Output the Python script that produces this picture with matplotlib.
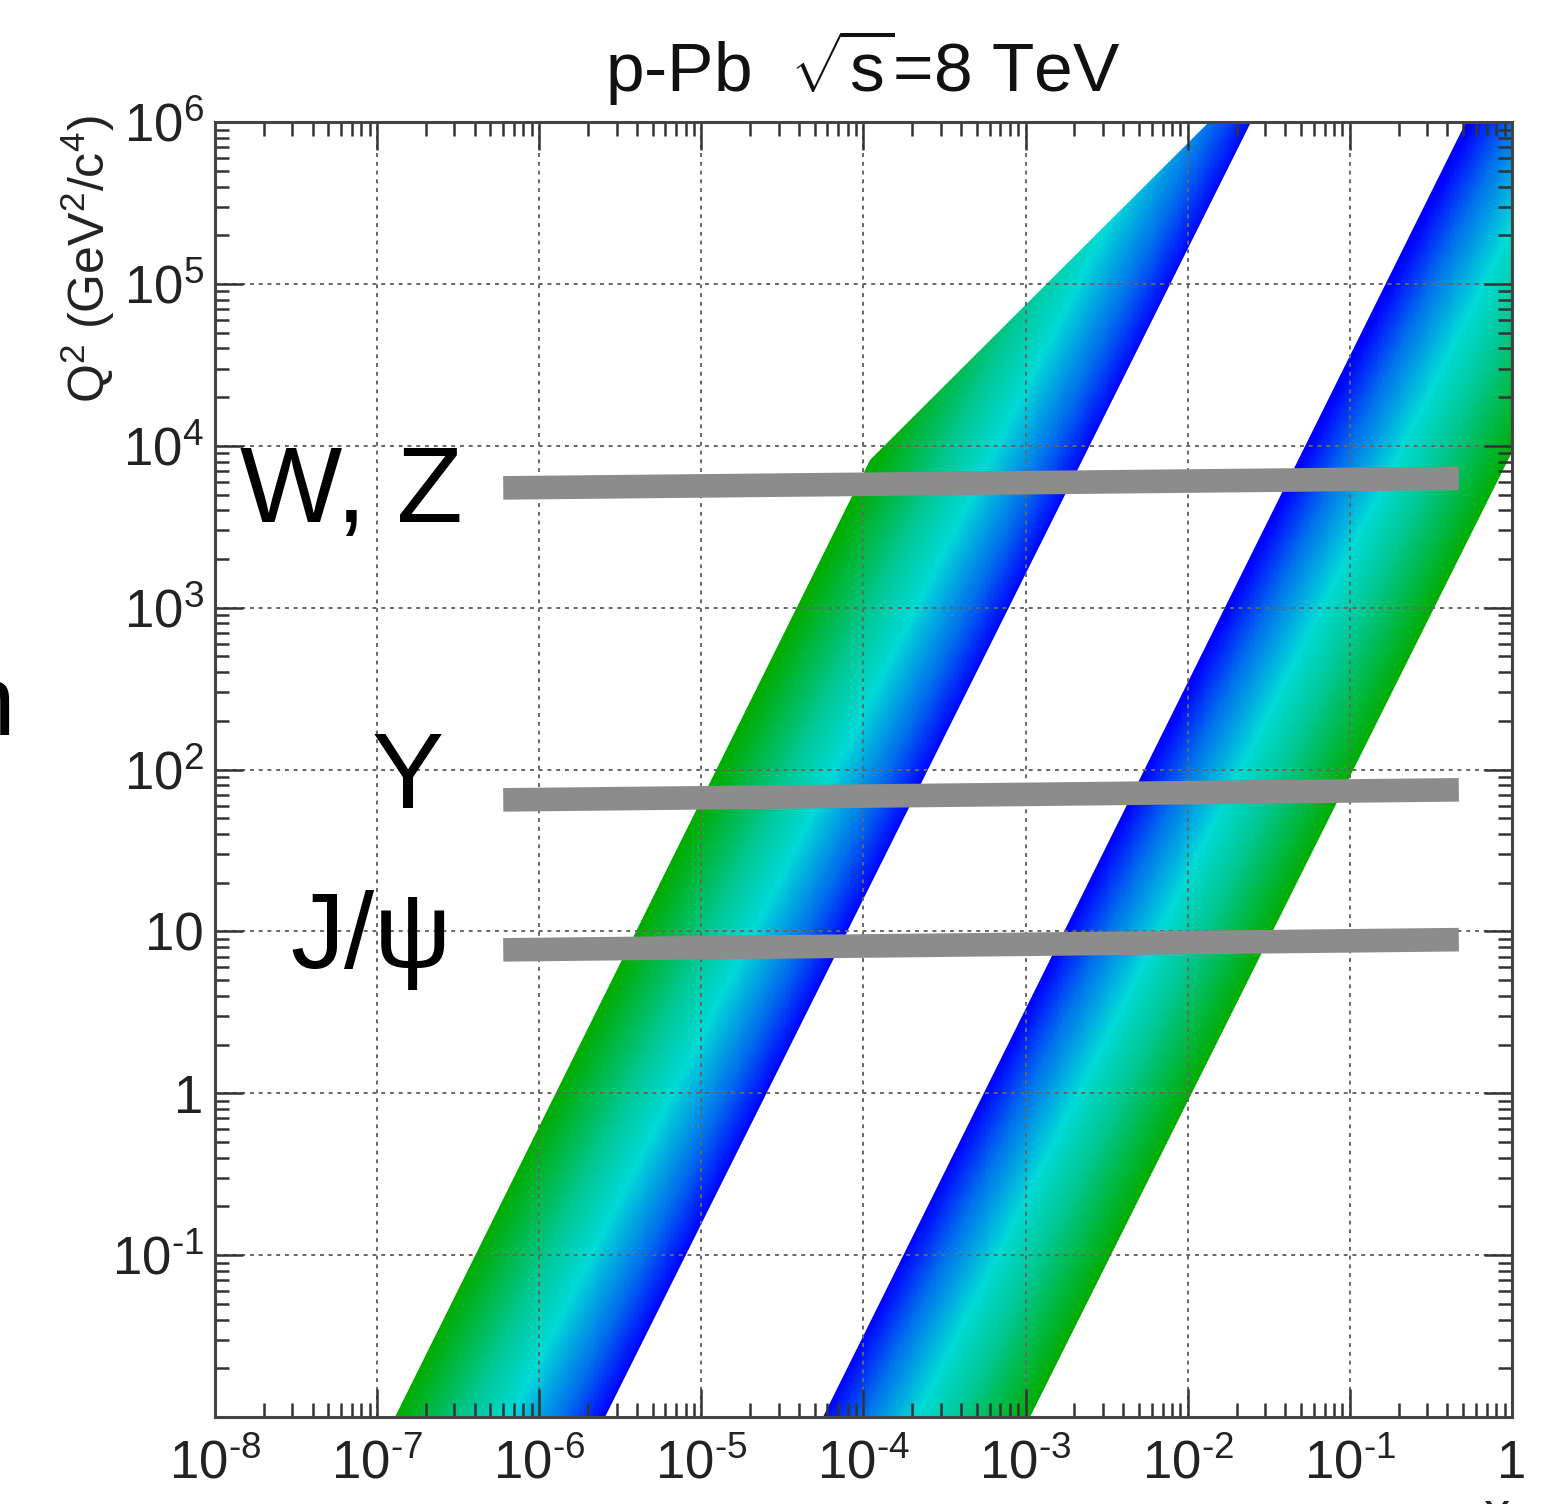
import numpy as np
import matplotlib
matplotlib.use("Agg")
import matplotlib.pyplot as plt
from matplotlib.colors import LinearSegmentedColormap
from matplotlib.patches import Polygon
from matplotlib.ticker import FixedLocator, FixedFormatter, LogLocator, NullFormatter

plt.rcParams['font.family'] = ['Liberation Sans', 'DejaVu Sans']
plt.rcParams['mathtext.fontset'] = 'custom'
plt.rcParams['mathtext.rm'] = 'Liberation Sans'
plt.rcParams['mathtext.it'] = 'Liberation Sans:italic'
plt.rcParams['mathtext.bf'] = 'Liberation Sans:bold'

# coverage band edges, (x, Q2) points from bottom to top
b1_lo_x = [1.29e-7, 1.10e-4, 1.35e-2]
b1_lo_q2 = [1e-2, 8.2e3, 1e6]
b1_hi_x = [2.55e-6, 2.45e-2]
b1_hi_q2 = [1e-2, 1e6]

b2_lo_x = [5.6e-5, 0.52]
b2_lo_q2 = [1e-2, 1e6]
b2_hi_x = [1.07e-3, 1.0, 1.0]
b2_hi_q2 = [1e-2, 9.1e3, 1e6]

# probe scales
probe_names = ['W, Z', 'Υ', 'J/ψ']
probe_x = [[6.0e-7, 0.47], [6.0e-7, 0.47], [6.0e-7, 0.47]]
probe_q2 = [[5.5e3, 6.3e3], [65, 75], [7.7, 8.9]]
probe_text_pos = [(0.019, 0.691), (0.121, 0.470), (0.058, 0.347)]

x_ticks = [1e-8, 1e-7, 1e-6, 1e-5, 1e-4, 1e-3, 1e-2, 1e-1, 1]
x_tick_labels = [r'$10^{\text{-}8}$', r'$10^{\text{-}7}$', r'$10^{\text{-}6}$',
                 r'$10^{\text{-}5}$', r'$10^{\text{-}4}$', r'$10^{\text{-}3}$',
                 r'$10^{\text{-}2}$', r'$10^{\text{-}1}$', '1']
y_ticks = [1e-2, 1e-1, 1, 10, 1e2, 1e3, 1e4, 1e5, 1e6]
y_tick_labels = ['', r'$10^{\text{-}1}$', '1', '10', '$10^{2}$', '$10^{3}$', '$10^{4}$',
                 '$10^{5}$', '$10^{6}$']

# blue edge -> cyan -> green edge
cmap = LinearSegmentedColormap.from_list(
    'rap', [(0.0, '#0000ff'), (0.2, '#0070ec'), (0.45, '#00dad6'),
            (0.65, '#00c896'), (1.0, '#00ac00')])

fig = plt.figure(figsize=(15.53, 15.04), dpi=100)
ax = fig.add_axes([0.1384, 0.0578, 0.8352, 0.8610])
ax.set_xscale('log')
ax.set_yscale('log')
ax.set_xlim(1e-8, 1)
ax.set_ylim(1e-2, 1e6)


def draw_band(lo_x, lo_q2, hi_x, hi_q2, blue_low):
    verts = list(zip(lo_x, lo_q2)) + list(zip(hi_x, hi_q2))[::-1]
    clip = Polygon(verts, closed=True, transform=ax.transData)
    u_lo = np.log10(lo_x[0]) - 0.5 * np.log10(lo_q2[0])
    u_hi = np.log10(hi_x[0]) - 0.5 * np.log10(hi_q2[0])
    lx = np.linspace(-8, 0, 451)
    ly = np.linspace(-2, 6, 451)
    xc = 0.5 * (lx[1:] + lx[:-1])
    yc = 0.5 * (ly[1:] + ly[:-1])
    u = xc[None, :] - 0.5 * yc[:, None]
    t = (u - u_lo) / (u_hi - u_lo)
    if not blue_low:
        t = 1 - t
    mesh = ax.pcolormesh(10 ** lx, 10 ** ly, np.clip(t, 0, 1), cmap=cmap,
                         vmin=0, vmax=1, shading='flat', zorder=1)
    mesh.set_clip_path(clip)


draw_band(b1_lo_x, b1_lo_q2, b1_hi_x, b1_hi_q2, blue_low=False)
draw_band(b2_lo_x, b2_lo_q2, b2_hi_x, b2_hi_q2, blue_low=True)

for name, px, pq, (tx, ty) in zip(probe_names, probe_x, probe_q2, probe_text_pos):
    ax.plot(px, pq, color='#8c8c8c', lw=17, solid_capstyle='butt', zorder=3)
    ax.text(tx, ty, name, transform=ax.transAxes, fontsize=78,
            ha='left', va='baseline', color='black', zorder=4)

ax.grid(True, which='major', color='#666666', linestyle=(0, (2, 2.5)), linewidth=1.4)

ax.xaxis.set_major_locator(FixedLocator(x_ticks))
ax.xaxis.set_major_formatter(FixedFormatter(x_tick_labels))
ax.yaxis.set_major_locator(FixedLocator(y_ticks))
ax.yaxis.set_major_formatter(FixedFormatter(y_tick_labels))
ax.xaxis.set_minor_locator(LogLocator(base=10, subs=np.arange(2, 10), numticks=20))
ax.yaxis.set_minor_locator(LogLocator(base=10, subs=np.arange(2, 10), numticks=20))
ax.xaxis.set_minor_formatter(NullFormatter())
ax.yaxis.set_minor_formatter(NullFormatter())

ax.tick_params(which='both', direction='in', top=True, right=True,
               color='#333333', width=1.8, labelsize=38, labelcolor='#222222')
ax.tick_params(which='major', length=20)
ax.tick_params(which='minor', length=10)
ax.tick_params(axis='x', pad=16)
ax.tick_params(axis='y', pad=8)
for s in ax.spines.values():
    s.set_linewidth(2.2)
    s.set_color('#444444')

fig.text(0.5557, 0.9388, r'p-Pb  $\sqrt{\mathrm{s}}$=8 TeV', fontsize=50,
         ha='center', va='baseline', color='#111111')
fig.text(0.0567, 0.9235, r'Q$^{2}$ (GeV$^{2}$/c$^{4}$)', fontsize=36,
         rotation=90, ha='center', va='top', color='#222222')
fig.text(0.964, 0.0093, 'x', fontsize=38, ha='center', va='top', color='#222222')
fig.text(0.0097, 0.511, 'n', fontsize=72, ha='right', va='baseline', color='black')

fig.savefig('out.png', dpi=100, facecolor='white')
